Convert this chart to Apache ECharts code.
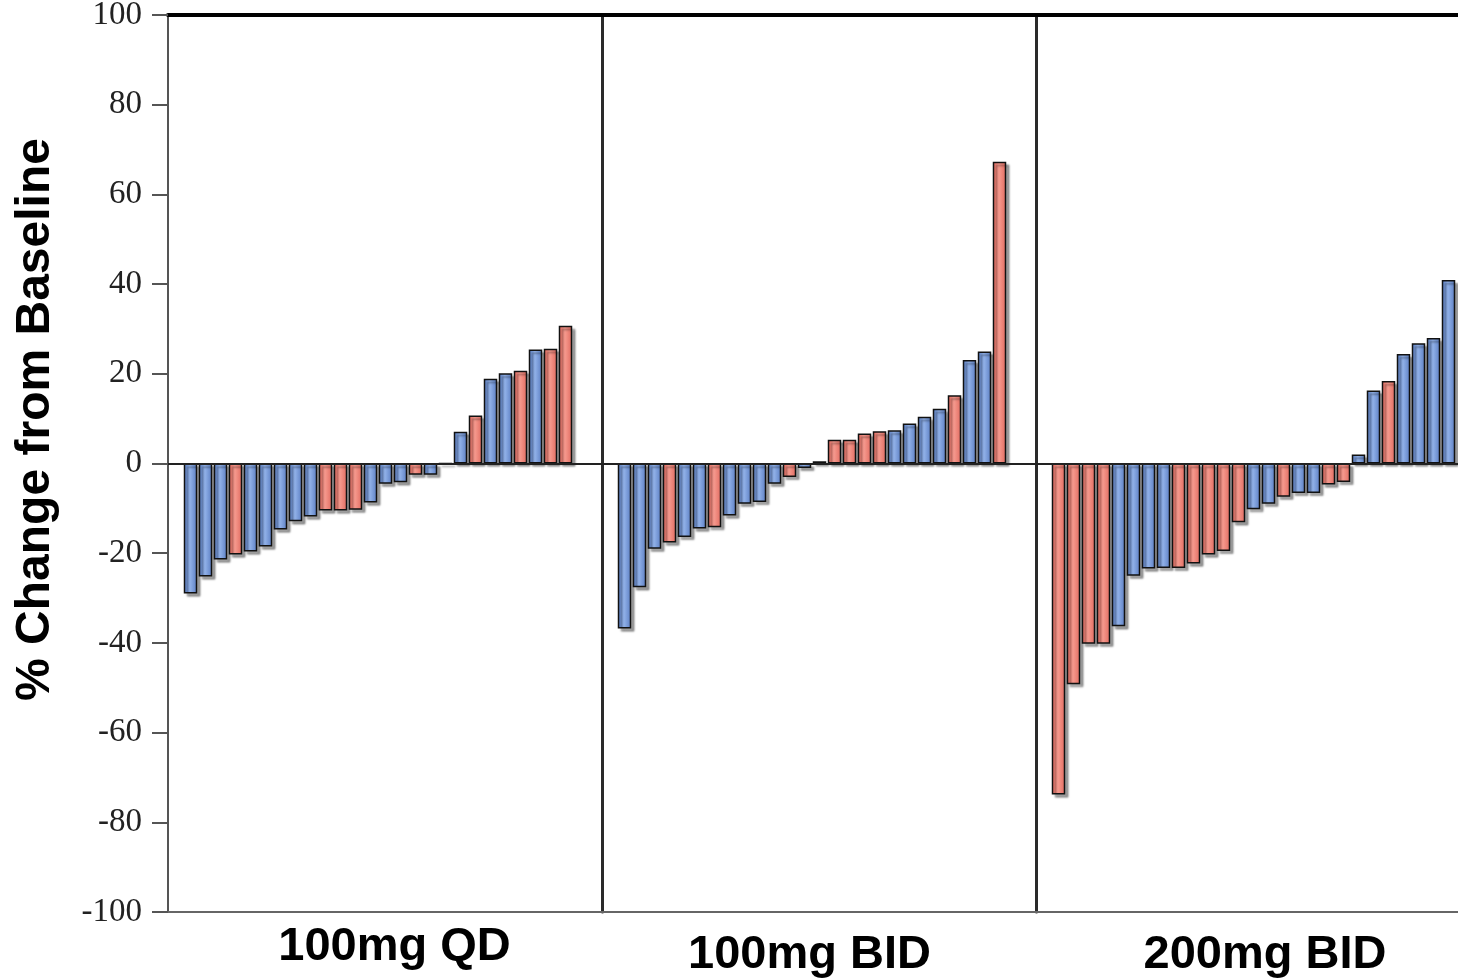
<!DOCTYPE html>
<html>
<head>
<meta charset="utf-8">
<script src="https://cdn.jsdelivr.net/npm/echarts@6/dist/echarts.min.js"></script>
<style>
  html, body { margin: 0; padding: 0; background: #fff; }
  #chart { width: 1458px; height: 978px; }
</style>
</head>
<body>
<div id="chart"></div>
<script>
  // values, sorted per dose group
  var qdValues = [-29, -25.2, -21.4, -20.3, -19.6, -18.5, -14.7, -12.9, -11.8, -10.5, -10.5, -10.3, -8.7,
    -4.5, -4.2, -2.5, -2.5, 0, 7.1, 10.7, 18.9, 20.1, 20.7, 25.4, 25.6, 30.7];
  var qdColors = ['b', 'b', 'b', 'r', 'b', 'b', 'b', 'b', 'b', 'r', 'r', 'r', 'b',
    'b', 'b', 'r', 'b', 'b', 'b', 'r', 'b', 'b', 'r', 'b', 'r', 'r'];

  var bid100Values = [-36.8, -27.6, -19, -17.6, -16.4, -14.5, -14.2, -11.6, -9, -8.6, -4.5, -3, -1,
    0.5, 5.3, 5.3, 6.7, 7.2, 7.4, 8.9, 10.4, 12.2, 15.2, 23.1, 25, 67.3];
  var bid100Colors = ['b', 'b', 'b', 'r', 'b', 'b', 'r', 'b', 'b', 'b', 'b', 'r', 'b',
    'b', 'r', 'r', 'r', 'r', 'b', 'b', 'b', 'b', 'r', 'b', 'b', 'r'];

  var bid200Values = [-73.8, -49.2, -40.2, -40.2, -36.3, -25, -23.4, -23.3, -23.3, -22.3, -20.3, -19.5, -13.1,
    -10.2, -9, -7.4, -6.6, -6.6, -4.7, -4.1, 2, 16.3, 18.4, 24.4, 26.8, 28, 40.9];
  var bid200Colors = ['r', 'r', 'r', 'r', 'b', 'b', 'b', 'b', 'r', 'r', 'r', 'r', 'r',
    'b', 'b', 'r', 'b', 'b', 'r', 'r', 'b', 'b', 'r', 'b', 'b', 'b', 'b'];

  var panelNames = ['100mg QD', '100mg BID', '200mg BID'];
  var yTicks = [-100, -80, -60, -40, -20, 0, 20, 40, 60, 80, 100];

  var panels = [
    {values: qdValues, colors: qdColors},
    {values: bid100Values, colors: bid100Colors},
    {values: bid200Values, colors: bid200Colors}
  ];

  var SLOTS = 29;
  var slotNames = [];
  for (var s = 0; s < SLOTS; s++) slotNames.push('p' + s);

  function fill(c) {
    if (c === 'r') {
      return {type: 'linear', x: 0, y: 0, x2: 1, y2: 0, colorStops: [
        {offset: 0, color: '#e4675c'}, {offset: 0.45, color: '#f79b8f'}, {offset: 1, color: '#e06a5f'}]};
    }
    return {type: 'linear', x: 0, y: 0, x2: 1, y2: 0, colorStops: [
      {offset: 0, color: '#5479c0'}, {offset: 0.45, color: '#93b3ea'}, {offset: 1, color: '#5a7dc2'}]};
  }

  var chart = echarts.init(document.getElementById('chart'));

  var grids = [], xAxes = [], yAxes = [], series = [];
  var nameGaps = [12, 20, 20];
  var namePads = [[0, 0, 0, 18], [0, 20, 0, 0], [0, 0, 0, 23]];

  panels.forEach(function (p, i) {
    grids.push({left: 168 + i * 434, top: 15, width: 435, height: 897, outerBoundsMode: 'none', containLabel: false});

    // bottom axis with the group label
    xAxes.push({
      type: 'category', gridIndex: i, data: slotNames,
      axisLine: {onZero: false, lineStyle: {color: '#666', width: 2}},
      axisTick: {show: false}, axisLabel: {show: false},
      name: panelNames[i], nameLocation: 'middle', nameGap: nameGaps[i],
      nameTextStyle: {fontFamily: 'Liberation Sans', fontWeight: 'bold', fontSize: 47, color: '#000',
        verticalAlign: 'top', padding: namePads[i]}
    });
    // thick frame line along the top
    xAxes.push({
      type: 'category', gridIndex: i, data: slotNames, position: 'top',
      axisLine: {onZero: false, lineStyle: {color: '#000', width: 4}},
      axisTick: {show: false}, axisLabel: {show: false}
    });

    yAxes.push({
      type: 'value', gridIndex: i, min: yTicks[0], max: yTicks[yTicks.length - 1], interval: 20,
      splitLine: {show: false},
      axisLine: {show: true, lineStyle: {color: i === 0 ? '#555' : '#2a2a2a', width: i === 0 ? 2 : 3}},
      axisTick: {show: i === 0, length: 16, lineStyle: {color: '#555', width: 2}},
      axisLabel: {show: i === 0, margin: 26, fontFamily: 'Liberation Serif', fontSize: 33, color: '#222'},
      name: i === 0 ? '% Change from Baseline' : '', nameLocation: 'middle', nameGap: 108,
      nameTextStyle: {fontFamily: 'Liberation Sans', fontWeight: 'bold', fontSize: 48, color: '#000',
        padding: [0, 0, 0, 88]}
    });

    var data = [null];
    p.values.forEach(function (v, k) {
      data.push({value: v, itemStyle: {color: fill(p.colors[k])}});
    });
    while (data.length < SLOTS) data.push(null);

    series.push({
      type: 'bar', xAxisIndex: i * 2, yAxisIndex: i, data: data,
      barWidth: 13.5,
      itemStyle: {borderColor: '#111', borderWidth: 1.5,
        shadowColor: 'rgba(0,0,0,0.35)', shadowBlur: 2, shadowOffsetX: 3, shadowOffsetY: 3},
      markLine: {
        silent: true, symbol: 'none', label: {show: false},
        lineStyle: {color: '#222', width: 2, type: 'solid'},
        data: [{yAxis: 0}]
      },
      z: 2
    });
  });

  chart.setOption({
    animation: false,
    backgroundColor: '#fff',
    grid: grids,
    xAxis: xAxes,
    yAxis: yAxes,
    series: series
  });
</script>
</body>
</html>
